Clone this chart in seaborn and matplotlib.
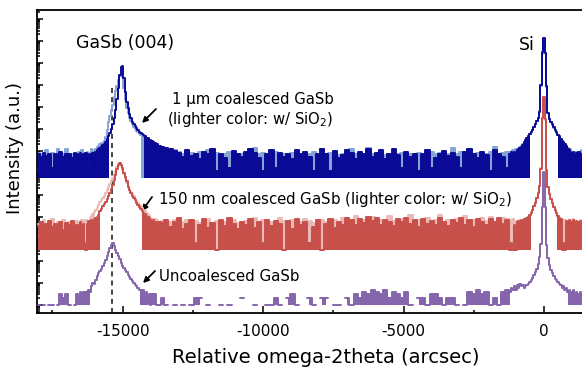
import numpy as np
import matplotlib
matplotlib.use("Agg")
import matplotlib.pyplot as plt
from matplotlib.ticker import MultipleLocator, LogLocator, NullFormatter
import seaborn as sns

# scan positions (arcsec): coarse on the background, finer across the peaks
x_arcsec = np.concatenate([
    np.arange(-18000, -16650, 100),
    np.arange(-16600, -13650, 50),
    np.arange(-13600, -1250, 150),
    np.arange(-1200, 1450, 50),
])

# counts (log scale, one decade ~ 22 px)
blue_1um = [
    12, 9, 14, 10, 13, 3, 12, 11, 15, 9, 12, 13, 8, 14,
    12, 9, 14, 11, 13, 10, 14, 12, 3, 13,
    12, 14, 13, 16, 18, 20, 23, 27, 31, 36,
    42, 58, 80, 108, 170, 280, 560, 1300, 4000, 12000,
    50000, 110000, 130000, 35000, 8500, 3000, 1500, 800, 520, 360,
    290, 230, 185, 150, 128, 112, 104, 88, 80, 66,
    64, 56, 52, 46, 44, 39, 37, 34, 30,
    27, 23, 20, 17, 14, 9, 18, 10, 13, 7,
    16, 12, 20, 2, 13, 8, 3, 17, 12, 9,
    15, 21, 14, 8, 2, 13, 19, 3, 14, 9,
    13, 7, 18, 12, 16, 9, 2, 13, 20, 12,
    2, 17, 8, 11, 19, 14, 7, 15, 12, 21,
    9, 14, 18, 7, 13, 20, 11, 3, 16, 9,
    13, 2, 12, 19, 3, 8, 13, 17, 10, 14,
    9, 3, 15, 20, 13, 8, 16, 11, 2, 18,
    13, 9, 3,
    13, 15, 11, 16, 14, 18, 20, 23, 27, 33,
    42, 52, 64, 80, 100, 120, 150, 210, 290, 390,
    530, 1000, 17000, 540000, 2300000, 500000, 15000, 950, 500, 370,
    280, 200, 150, 118, 95, 78, 62, 50, 42, 34,
    28, 22, 19, 16, 12, 15, 10, 14, 12, 15,
    9, 13, 11,
]
blue_1um_sio2 = [
    14, 12, 11, 18, 12, 14, 11, 20, 13, 12, 22, 11, 13, 12,
    13, 15, 11, 18, 12, 14, 11, 16, 14, 12,
    20, 15, 18, 22, 25, 30, 34, 38, 40, 48,
    70, 160, 350, 650, 1200, 2200, 5000, 9000, 16000, 28000,
    42000, 50000, 40000, 12000, 3500, 1600, 900, 560, 380, 280,
    220, 175, 145, 120, 105, 92, 84, 75, 66, 60,
    55, 50, 46, 42, 38, 35, 32, 30, 26,
    26, 22, 19, 18, 15, 13, 12, 14, 11, 15,
    12, 18, 22, 14, 11, 12, 15, 11, 13, 12,
    10, 20, 23, 12, 14, 11, 10, 15, 12, 13,
    11, 14, 12, 11, 13, 12, 15, 11, 22, 13,
    14, 12, 11, 13, 12, 20, 12, 14, 11, 23,
    13, 12, 14, 11, 12, 13, 12, 14, 11, 13,
    12, 14, 11, 13, 15, 12, 14, 11, 12, 24,
    13, 15, 12, 22, 11, 14, 12, 13, 15, 25,
    12, 14, 15,
    15, 12, 18, 13, 20, 16, 22, 25, 30, 36,
    45, 55, 68, 85, 100, 125, 160, 220, 300, 400,
    560, 1100, 15000, 450000, 2000000, 480000, 14000, 900, 480, 360,
    270, 190, 145, 115, 92, 75, 60, 48, 40, 32,
    26, 24, 18, 20, 14, 12, 15, 11, 16, 12,
    14, 18, 12,
]
red_150nm = [
    12, 18, 9, 15, 20, 11, 16, 13, 19, 8, 17, 14, 21, 10,
    14, 9, 18, 12, 16, 2, 1, 15, 20, 17,
    22, 19, 25, 28, 33, 40, 60, 75, 95, 120,
    150, 200, 280, 400, 600, 900, 1500, 2500, 5000, 7500,
    9000, 7500, 5500, 3200, 2000, 1300, 750, 560, 400, 300,
    240, 180, 140, 110, 90, 72, 58, 50, 42, 36,
    32, 28, 24, 20, 22, 17, 19, 14, 18,
    17, 24, 11, 18, 28, 9, 16, 22, 2, 13,
    25, 10, 17, 1, 22, 12, 28, 16, 9, 19,
    14, 26, 10, 18, 2, 24, 12, 21, 15, 1,
    20, 9, 27, 13, 18, 2, 11, 23, 1, 16,
    25, 10, 19, 14, 30, 22, 13, 26, 17, 32,
    20, 28, 14, 24, 19, 12, 27, 18, 30, 15,
    23, 11, 26, 16, 21, 13, 28, 18, 12, 24,
    17, 29, 14, 22, 11, 26, 18, 13, 25, 19,
    30, 15, 24,
    1, 2, 1, 14, 1, 18, 21, 16, 24, 20,
    27, 23, 28, 31, 38, 50, 66, 95, 140, 220,
    380, 800, 5000, 1000000, 9200000, 900000, 4500, 750, 360, 210,
    135, 92, 64, 48, 37, 30, 25, 1, 2, 1,
    20, 17, 22, 15, 19, 23, 16, 20, 14, 18,
    21, 15, 19,
]
red_150nm_sio2 = [
    16, 13, 22, 12, 14, 25, 12, 18, 15, 24, 12, 19, 13, 17,
    20, 12, 15, 22, 13, 18, 24, 14, 21, 28,
    35, 45, 55, 66, 80, 110, 150, 190, 240, 300,
    400, 520, 700, 950, 1300, 1900, 2800, 4000, 6000, 7800,
    8000, 6500, 4500, 2800, 1700, 1100, 700, 520, 450, 350,
    280, 215, 170, 140, 115, 95, 80, 68, 58, 50,
    42, 36, 30, 27, 24, 26, 18, 22, 15,
    20, 16, 19, 24, 15, 18, 22, 14, 20, 17,
    16, 26, 15, 21, 16, 19, 15, 22, 17, 14,
    20, 16, 28, 15, 22, 16, 19, 15, 30, 20,
    15, 22, 16, 19, 25, 21, 17, 15, 23, 18,
    16, 22, 15, 28, 17, 20, 35, 18, 24, 20,
    32, 19, 23, 18, 36, 21, 18, 25, 20, 38,
    18, 24, 19, 30, 18, 22, 40, 17, 24, 19,
    26, 19, 35, 18, 24, 19, 28, 20, 33, 18,
    22, 30, 25,
    22, 18, 25, 16, 20, 15, 19, 24, 18, 22,
    26, 21, 30, 33, 40, 52, 68, 100, 150, 230,
    400, 850, 5500, 950000, 8500000, 850000, 4200, 700, 340, 200,
    130, 90, 62, 47, 36, 30, 26, 22, 18, 24,
    16, 20, 14, 22, 17, 25, 15, 21, 18, 16,
    23, 17, 20,
]
purple_uncoalesced = [
    1, 0, 1, 0, 1, 1, 0, 1, 3, 2, 3, 1, 0, 1,
    3, 2, 4, 3, 4, 2, 4, 3, 5, 4,
    7, 10, 9, 14, 20, 28, 35, 45, 60, 85,
    115, 170, 260, 380, 560, 650, 480, 330, 230, 170,
    120, 85, 62, 48, 38, 30, 24, 19, 15, 12,
    10, 8, 7, 6, 5, 5, 4, 5, 3, 4,
    2, 3, 1, 3, 2, 3, 1, 0, 1,
    2, 1, 0, 1, 0, 1, 0, 1, 2, 2,
    0, 1, 0, 0, 1, 0, 1, 0, 0, 2,
    0, 0, 1, 0, 0, 1, 1, 2, 1, 0,
    2, 3, 1, 0, 0, 2, 1, 0, 2, 2,
    0, 1, 1, 0, 2, 1, 3, 2, 4, 3,
    5, 4, 3, 5, 2, 4, 3, 2, 4, 1,
    0, 2, 2, 1, 3, 3, 2, 1, 2, 2,
    1, 0, 1, 4, 3, 5, 3, 4, 1, 2,
    1, 4, 5,
    4, 6, 5, 7, 5, 8, 6, 9, 7, 8,
    6, 7, 8, 9, 11, 14, 17, 22, 30, 42,
    70, 150, 600, 30000, 1100000, 28000, 550, 140, 65, 40,
    28, 21, 16, 13, 11, 9, 8, 6, 7, 5,
    6, 4, 5, 3, 4, 5, 3, 4, 2, 3,
    4, 2, 3,
]

# vertical offsets of the stacked scans
offset_1um = 10 ** 5.77
offset_150nm = 10 ** 2.5
offset_uncoalesced = 1.0

gasb_peak_uncoalesced = -15390

sns.set_style("ticks")
plt.rcParams["font.family"] = ["DejaVu Sans"]
plt.rcParams["axes.unicode_minus"] = False
plt.rcParams["text.color"] = "black"
plt.rcParams["axes.labelcolor"] = "black"

fig = plt.figure(figsize=(5.82, 3.68), dpi=100)
ax = fig.add_axes([37 / 582, 55 / 368, 546.3 / 582, 303 / 368])

# (counts, offset, colour, level below which the noisy trace reads as a solid band)
scans = [
    (blue_1um_sio2, offset_1um, "#86a3d6", 100),
    (blue_1um, offset_1um, "#0a0a96", 100),
    (red_150nm_sio2, offset_150nm, "#ecbab6", 60),
    (red_150nm, offset_150nm, "#c8504b", 60),
    (purple_uncoalesced, offset_uncoalesced, "#8565ab", 5),
]

for z, (counts, offset, color, cap) in enumerate(scans):
    counts = np.asarray(counts, dtype=float)
    assert len(counts) == len(x_arcsec)
    y = counts * offset
    band = (counts > 0) & (counts <= cap)
    ax.fill_between(x_arcsec, offset, y, where=band, step="mid",
                    color=color, lw=0, zorder=2 * z + 1)
    sns.lineplot(x=x_arcsec, y=y, ax=ax, color=color, lw=1.4,
                 drawstyle="steps-mid", estimator=None, zorder=2 * z + 2)

ax.set_yscale("log", nonpositive="mask")
ax.set_xlim(-18050, 1400)
ax.set_ylim(10 ** -0.364, 10 ** 13.41)

ax.axvline(gasb_peak_uncoalesced, ymin=0, ymax=0.743, color="#222222",
           lw=1.2, ls=(0, (3, 2.5)), zorder=0.5)

ax.xaxis.set_major_locator(MultipleLocator(5000))
ax.xaxis.set_minor_locator(MultipleLocator(2500))
ax.yaxis.set_major_locator(LogLocator(base=10, numticks=40))
ax.yaxis.set_minor_locator(LogLocator(base=10, subs=np.arange(2, 10), numticks=40))
ax.yaxis.set_major_formatter(NullFormatter())
ax.yaxis.set_minor_formatter(NullFormatter())
ax.tick_params(axis="both", which="both", direction="in", width=1.1,
               colors="k", labelcolor="k")
ax.tick_params(axis="x", which="major", length=5, labelsize=11, pad=8)
ax.tick_params(axis="x", which="minor", length=2.5)
ax.tick_params(axis="y", which="major", length=4.5)
ax.tick_params(axis="y", which="minor", length=2.5)

for side in ["left", "bottom", "top"]:
    ax.spines[side].set_linewidth(1.3)
    ax.spines[side].set_color("k")
ax.spines["right"].set_visible(False)

ax.set_xlabel("Relative omega-2theta (arcsec)", fontsize=14, va="center")
ax.xaxis.set_label_coords(0.529, -0.148)
ax.set_ylabel("Intensity (a.u.)", fontsize=13, va="center")
ax.yaxis.set_label_coords(-0.040, 0.545)

ax.text(0.161, 0.891, "GaSb (004)", transform=ax.transAxes, fontsize=12.5,
        ha="center", va="center")
ax.text(0.897, 0.884, "Si", transform=ax.transAxes, fontsize=12.5,
        ha="center", va="center")
ax.text(0.3945, 0.706, "1 µm coalesced GaSb", transform=ax.transAxes,
        fontsize=10.7, ha="center", va="center")
ax.text(0.3908, 0.640, r"(lighter color: w/ SiO$_2$)", transform=ax.transAxes,
        fontsize=10.7, ha="center", va="center")
ax.text(0.2215, 0.373, r"150 nm coalesced GaSb (lighter color: w/ SiO$_2$)",
        transform=ax.transAxes, fontsize=10.8, ha="left", va="center")
ax.text(0.2233, 0.122, "Uncoalesced GaSb", transform=ax.transAxes,
        fontsize=10.8, ha="left", va="center")

arrow = dict(arrowstyle="-|>", color="k", lw=1.3, mutation_scale=8,
             shrinkA=0, shrinkB=0)
for tail, head in [((0.2178, 0.6733), (0.1922, 0.6271)),
                   ((0.2105, 0.3828), (0.1922, 0.3366)),
                   ((0.2160, 0.1386), (0.1941, 0.0990))]:
    ax.annotate("", xy=head, xytext=tail, xycoords="axes fraction",
                textcoords="axes fraction", arrowprops=arrow)

fig.savefig("out.png", dpi=100)
